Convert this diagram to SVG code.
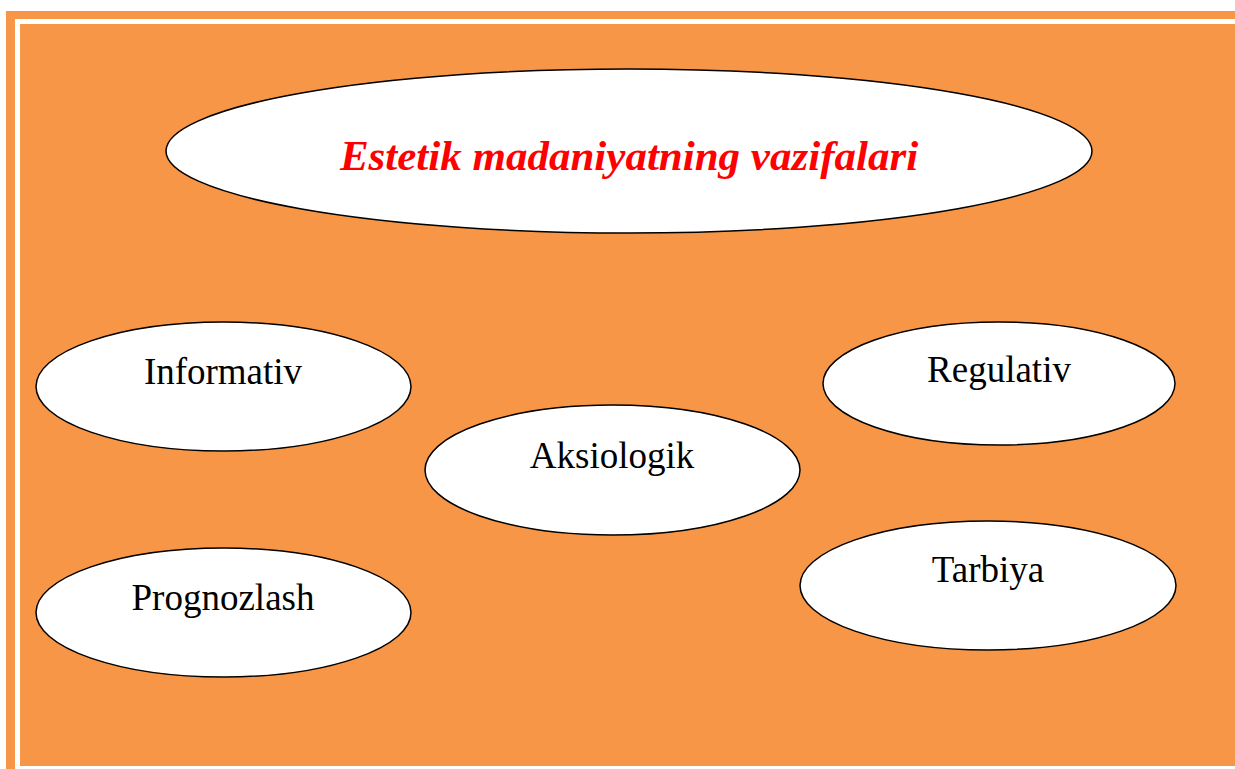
<svg xmlns="http://www.w3.org/2000/svg" width="1235" height="769" viewBox="0 0 1235 769">
<style>
.bg{fill:#F79646}
.node ellipse{fill:#FFFFFF;stroke:#000000;stroke-width:1.5}
.lbl{font-family:"Liberation Serif","Times New Roman",serif;font-size:37px;fill:#000000;text-anchor:middle}
.title{font-family:"Liberation Serif","Times New Roman",serif;font-size:43px;font-weight:bold;font-style:italic;fill:#FF0000;text-anchor:middle}
</style>
<rect x="0" y="0" width="1235" height="769" fill="#FFFFFF"/>
<rect class="bg" x="6" y="11" width="1229" height="8"/>
<rect class="bg" x="6" y="11" width="9" height="758"/>
<rect class="bg" x="20" y="24" width="1215" height="742"/>
<g id="connectors"></g>
<g id="title" class="node">
<ellipse cx="629" cy="151" rx="463" ry="82"/>
<text class="title" x="629" y="170">Estetik madaniyatning vazifalari</text>
</g>
<g id="informativ" class="node">
<ellipse cx="223.5" cy="386.5" rx="187.5" ry="64.5"/>
<text class="lbl" x="223" y="384">Informativ</text>
</g>
<g id="regulativ" class="node">
<ellipse cx="999" cy="383.5" rx="176" ry="61.5"/>
<text class="lbl" x="999" y="382">Regulativ</text>
</g>
<g id="aksiologik" class="node">
<ellipse cx="612.5" cy="470" rx="187.5" ry="65"/>
<text class="lbl" x="612" y="468">Aksiologik</text>
</g>
<g id="prognozlash" class="node">
<ellipse cx="223.5" cy="612.5" rx="187.5" ry="64.5"/>
<text class="lbl" x="223" y="610">Prognozlash</text>
</g>
<g id="tarbiya" class="node">
<ellipse cx="988" cy="585.5" rx="188" ry="64.5"/>
<text class="lbl" x="988" y="582">Tarbiya</text>
</g>
</svg>
